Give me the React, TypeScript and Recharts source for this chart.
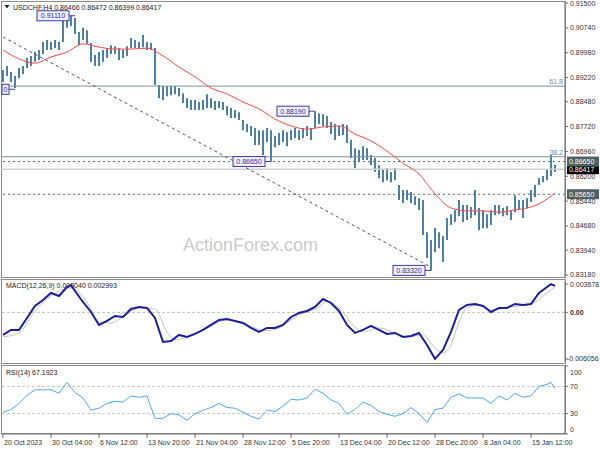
import React from "react";
import {
  Bar,
  ComposedChart,
  Line,
  ReferenceDot,
  ReferenceLine,
  XAxis,
  YAxis,
} from "recharts";

// USDCHF H4 with SMA, MACD(12,26,9) and RSI(14). One slot here covers about
// 2.7 H4 bars of the original screen; the last slots stay empty (chart shift).
const SLOTS = 141;

const highs = [
  0.8945, 0.8957, 0.8939, 0.8927, 0.8951, 0.8957, 0.8982, 0.8988, 0.9, 0.9006,
  0.9031, 0.9037, 0.9031, 0.9037, 0.9031, 0.9098, 0.9113, 0.911, 0.9104, 0.9061,
  0.9074, 0.9067, 0.9028, 0.8991, 0.9, 0.9006, 0.9012, 0.9021, 0.9018, 0.9012,
  0.9006, 0.9018, 0.9043, 0.9037, 0.9031, 0.9052, 0.9031, 0.9028, 0.9012, 0.8899,
  0.8896, 0.8896, 0.8896, 0.8896, 0.889, 0.8874, 0.8859, 0.8853, 0.8853, 0.8847,
  0.8853, 0.8871, 0.8859, 0.885, 0.885, 0.8847, 0.8835, 0.8829, 0.8823, 0.8816,
  0.8792, 0.878, 0.8774, 0.8768, 0.8761, 0.8761, 0.8768, 0.8761, 0.8743, 0.8752,
  0.8761, 0.8755, 0.8761, 0.8768, 0.8761, 0.8768, 0.8774, 0.8768, 0.8819, 0.8813,
  0.881, 0.8804, 0.8786, 0.878, 0.8774, 0.878, 0.8777, 0.8731, 0.8706, 0.87,
  0.8712, 0.8706, 0.8685, 0.8676, 0.8654, 0.8639, 0.8645, 0.8633, 0.8645, 0.8593,
  0.8578, 0.8578, 0.8572, 0.8559, 0.8553, 0.8547, 0.8449, 0.8425, 0.8462, 0.8449,
  0.8437, 0.8492, 0.8504, 0.8516, 0.8547, 0.8532, 0.8532, 0.8526, 0.8578, 0.8523,
  0.8516, 0.8504, 0.8516, 0.8532, 0.8532, 0.8523, 0.8529, 0.8516, 0.8562, 0.8547,
  0.8547, 0.8553, 0.8578, 0.8593, 0.8615, 0.8621, 0.8639, 0.8685, 0.8655,
];

const lows = [
  0.8908, 0.8927, 0.8908, 0.889, 0.892, 0.8933, 0.8951, 0.8957, 0.897, 0.8976,
  0.8994, 0.9006, 0.9006, 0.9012, 0.9006, 0.9031, 0.9074, 0.908, 0.9055, 0.9021,
  0.9037, 0.9025, 0.897, 0.8957, 0.8957, 0.897, 0.8982, 0.8994, 0.8994, 0.8976,
  0.8982, 0.8988, 0.9012, 0.9012, 0.9012, 0.9015, 0.9006, 0.9006, 0.8899, 0.8859,
  0.8853, 0.8865, 0.8868, 0.8871, 0.8865, 0.8844, 0.8829, 0.8823, 0.8823, 0.8823,
  0.8823, 0.8829, 0.8829, 0.8823, 0.8829, 0.8823, 0.8807, 0.8798, 0.8798, 0.8792,
  0.8761, 0.8755, 0.8743, 0.8716, 0.8716, 0.8685, 0.8725, 0.8665, 0.8709, 0.8716,
  0.8725, 0.8712, 0.8731, 0.8737, 0.8731, 0.8737, 0.8743, 0.8731, 0.8768, 0.878,
  0.8774, 0.8768, 0.8749, 0.8731, 0.8743, 0.8746, 0.8722, 0.8676, 0.8645, 0.8664,
  0.867, 0.867, 0.8654, 0.8633, 0.8614, 0.8602, 0.8608, 0.8602, 0.8608, 0.8547,
  0.8538, 0.8547, 0.8538, 0.8532, 0.8517, 0.844, 0.837, 0.8332, 0.8388, 0.84,
  0.8358, 0.8425, 0.8471, 0.848, 0.8498, 0.848, 0.8486, 0.8492, 0.8501, 0.8455,
  0.8461, 0.8461, 0.8471, 0.8501, 0.8504, 0.8498, 0.8501, 0.8486, 0.851, 0.8517,
  0.8492, 0.8523, 0.8541, 0.8556, 0.8593, 0.8602, 0.8608, 0.8621, 0.8633,
];

// [slot, value]
const maPoints: [number, number][] = [
  [0, 0.9006], [4, 0.8979], [8, 0.8966], [12, 0.8985], [16, 0.9], [20, 0.9025],
  [24, 0.9015], [28, 0.9009], [32, 0.9009], [36, 0.9012], [40, 0.8988], [44, 0.8954],
  [48, 0.8924], [52, 0.889], [56, 0.8872], [60, 0.8847], [64, 0.8826], [68, 0.8795],
  [72, 0.8774], [76, 0.8764], [80, 0.8771], [84, 0.8774], [88, 0.8749], [92, 0.8728],
  [96, 0.8697], [100, 0.866], [104, 0.8627], [108, 0.8566], [112, 0.8523], [116, 0.8514],
  [120, 0.8514], [124, 0.851], [128, 0.8517], [132, 0.8526], [136, 0.855], [138, 0.8569],
];

const macdPoints: [number, number][] = [
  [0, -0.00294], [2, -0.00229], [4, -0.00229], [6, -0.00073], [8, 0.00083], [10, 0.00161],
  [12, 0.00252], [14, 0.00213], [16, 0.0033], [17, 0.00356], [18, 0.00278], [20, 0.00135],
  [22, 0.00005], [24, -0.00164], [26, -0.00112], [28, -0.00047], [30, -0.0006], [32, 0.00044],
  [34, 0.0007], [36, 0.00057], [38, -0.00073], [40, -0.00385], [42, -0.00372], [44, -0.00294],
  [46, -0.0032], [48, -0.00281], [50, -0.00229], [52, -0.00164], [54, -0.00099], [56, -0.00086],
  [58, -0.00112], [60, -0.00138], [62, -0.00203], [64, -0.00255], [66, -0.00203], [68, -0.00203],
  [70, -0.00164], [72, -0.0006], [74, -0.00008], [76, 0.00018], [78, 0.0007], [80, 0.00174],
  [82, 0.00122], [84, 0.00018], [86, -0.00164], [88, -0.00268], [90, -0.00229], [92, -0.00177],
  [94, -0.00229], [96, -0.00281], [98, -0.00268], [100, -0.0032], [102, -0.00307], [104, -0.00268],
  [106, -0.00424], [108, -0.00605], [110, -0.0049], [112, -0.00255], [114, 0.00031], [116, 0.00096],
  [118, 0.00109], [120, 0.00083], [122, 0.00005], [124, 0.00057], [126, 0.00057], [128, 0.00109],
  [130, 0.00096], [132, 0.00109], [134, 0.00252], [136, 0.0033], [137, 0.00368], [138, 0.00345],
];

const signalPoints: [number, number][] = [
  [0, -0.0032], [4, -0.00268], [8, 0.00018], [12, 0.00213], [17, 0.00317], [21, 0.00135],
  [24, -0.00125], [27, -0.00138], [30, -0.0006], [34, 0.00057], [38, 0.00044], [41, -0.00255],
  [43, -0.00359], [46, -0.0032], [51, -0.00203], [56, -0.00099], [63, -0.00203], [65, -0.00242],
  [69, -0.00203], [72, -0.00099], [74, -0.00034], [79, 0.0007], [81, 0.00148], [84, 0.00057],
  [88, -0.0019], [90, -0.00255], [94, -0.00203], [98, -0.00268], [101, -0.0032], [105, -0.00294],
  [108, -0.00463], [110, -0.00528], [112, -0.00424], [114, -0.00125], [116, 0.00057], [119, 0.00096],
  [122, 0.00031], [127, 0.0007], [132, 0.00109], [136, 0.00252], [138, 0.0033],
];

const rsiPoints: [number, number][] = [
  [0, 32], [2, 36], [4, 45], [6, 57], [8, 65], [10, 65], [12, 65], [14, 60], [16, 76],
  [18, 61], [20, 53], [22, 35], [24, 38], [26, 45], [28, 48], [30, 47], [32, 56], [34, 54],
  [36, 56], [38, 23], [40, 23], [42, 30], [44, 28], [46, 20], [48, 30], [50, 35], [52, 39],
  [54, 45], [56, 39], [58, 38], [60, 32], [62, 26], [64, 22], [66, 35], [68, 33], [70, 41],
  [72, 51], [74, 50], [76, 53], [78, 66], [80, 60], [82, 50], [84, 45], [86, 29], [88, 36],
  [90, 47], [92, 42], [94, 33], [96, 29], [98, 26], [100, 30], [102, 39], [104, 30], [106, 17],
  [108, 36], [110, 38], [112, 54], [114, 59], [116, 53], [118, 53], [120, 53], [122, 45],
  [124, 56], [126, 50], [128, 60], [130, 54], [132, 56], [134, 70], [136, 73], [137, 76],
  [138, 67.2],
];

const timeLabels = [
  "20 Oct 2023", "30 Oct 04:00", "6 Nov 12:00", "13 Nov 20:00", "21 Nov 04:00",
  "28 Nov 12:00", "5 Dec 20:00", "13 Dec 04:00", "20 Dec 12:00", "28 Dec 20:00",
  "8 Jan 04:00", "15 Jan 12:00",
];

const priceTicks = [
  0.915, 0.9074, 0.8998, 0.8922, 0.8848, 0.8772, 0.8696, 0.862, 0.8544, 0.8468, 0.8394, 0.8318,
];
const macdTicks = [0.003678, 0, -0.006056];
const macdTickLabels = ["0.003678", "0.00", "-0.006056"];
const rsiTicks = [100, 70, 30, 0];
const rsiBands = [70, 30];

const fibLevels = [
  { price: 0.88958, label: "61.8" },
  { price: 0.86797, label: "38.2" },
];
const keyLevels = [0.8665, 0.8565];
const lastPrice = 0.86417;
const swings = [
  { i: 3, price: 0.8886 },
  { i: 18, price: 0.9111 },
  { i: 67, price: 0.8665 },
  { i: 78, price: 0.8819 },
  { i: 107, price: 0.8332 },
];
const trendLine = [
  { x: 0, y: 0.9046 },
  { x: 107, y: 0.8342 },
];

type Row = {
  i: number;
  range: [number, number] | null;
  ma: number | null;
  macd: number | null;
  signal: number | null;
  rsi: number | null;
};

const rows: Row[] = Array.from({ length: SLOTS }, (_, i) => ({
  i,
  range: i < highs.length ? [lows[i], highs[i]] : null,
  ma: null,
  macd: null,
  signal: null,
  rsi: null,
}));
maPoints.forEach(([i, v]) => (rows[i].ma = v));
macdPoints.forEach(([i, v]) => (rows[i].macd = v));
signalPoints.forEach(([i, v]) => (rows[i].signal = v));
rsiPoints.forEach(([i, v]) => (rows[i].rsi = v));

const FONT = "'Liberation Sans', Arial, sans-serif";
const AXIS = "#6e6e6e";

function PriceTick({ x, y, payload }: any) {
  return (
    <text x={x} y={y + 2.5} fontSize={7} fontFamily={FONT} fill="#333">
      {payload.value.toFixed(5)}
    </text>
  );
}

function MacdTick({ x, y, payload }: any) {
  const k = macdTicks.indexOf(payload.value);
  const neg = payload.value < 0;
  return (
    <text
      x={neg ? x - 3 : x}
      y={y + 2.5}
      fontSize={7}
      fontFamily={FONT}
      fill="#333"
      fontWeight={payload.value === 0 ? 700 : 400}
    >
      {macdTickLabels[k]}
    </text>
  );
}

function RsiTick({ x, y, payload }: any) {
  // MT4 pulls the end labels inside the window
  const shift = payload.value === 100 ? 6 : payload.value === 0 ? -4.5 : 0;
  return (
    <text x={x} y={y + 2.5 + shift} fontSize={7} fontFamily={FONT} fill="#333">
      {payload.value}
    </text>
  );
}

function TimeTick({ x, y, payload }: any) {
  return (
    <text x={x + 1} y={y + 5} fontSize={7} fontFamily={FONT} fill="#333">
      {timeLabels[payload.value / 12]}
    </text>
  );
}

// price tag sitting in the axis column
function AxisTag({ viewBox, text, bg }: any) {
  const x = viewBox.x + viewBox.width + 2;
  return (
    <g>
      <rect x={x} y={viewBox.y - 5} width={32} height={10} fill={bg} />
      <text x={x + 2} y={viewBox.y + 2.5} fontSize={7} fontFamily={FONT} fill="#fff">
        {text}
      </text>
    </g>
  );
}

function FibTag({ viewBox, text }: any) {
  return (
    <text
      x={viewBox.x + viewBox.width - 2}
      y={viewBox.y - 2}
      textAnchor="end"
      fontSize={7}
      fontFamily={FONT}
      fill="#6d8aa3"
    >
      {text}
    </text>
  );
}

function SwingTag({ cx, cy, text }: any) {
  const right = cx - 6;
  let w = 32;
  let shown = text;
  // a tag running into the left edge shows only its tail, as MT4 does
  if (right - w < 2) {
    w = right - 2;
    shown = text.slice(-Math.max(1, Math.floor((w - 2) / 4)));
  }
  return (
    <g>
      <line x1={right} x2={cx} y1={cy} y2={cy} stroke="#3b3bb4" strokeWidth={1} />
      <rect x={right - w} y={cy - 5} width={w} height={10} fill="#eef0ff" stroke="#3b3bb4" />
      <text
        x={right - w / 2}
        y={cy + 2.5}
        textAnchor="middle"
        fontSize={7}
        fontFamily={FONT}
        fill="#2e2ea0"
      >
        {shown}
      </text>
    </g>
  );
}

export default function App() {
  return (
    <div style={{ position: "relative", width: 600, height: 450, background: "#fff" }}>
      <style>{"body{margin:0}"}</style>

      {/* frames, captions, watermark */}
      <svg
        width={600}
        height={450}
        style={{ position: "absolute", left: 0, top: 0 }}
      >
        <rect x={1.5} y={1.5} width={564} height={276} fill="none" stroke="#8c8c8c" />
        <rect x={1.5} y={279.5} width={564} height={84} fill="none" stroke="#8c8c8c" />
        <rect x={1.5} y={365.5} width={564} height={68} fill="none" stroke="#8c8c8c" />
        <text x={183} y={251} fontSize={18} fontFamily={FONT} fill="#cacaca">
          ActionForex.com
        </text>
        <polygon points="4.5,5 9.5,5 7,8.5" fill="#222" />
        <text x={13} y={10} fontSize={7} fontFamily={FONT} fill="#222">
          USDCHF,H4  0.86466 0.86472 0.86399 0.86417
        </text>
        <text x={6} y={288} fontSize={7} fontFamily={FONT} fill="#222">
          MACD(12,26,9) 0.003040 0.002993
        </text>
        <text x={6} y={375} fontSize={7} fontFamily={FONT} fill="#222">
          RSI(14) 67.1923
        </text>
      </svg>

      {/* price window */}
      <div style={{ position: "absolute", left: 0, top: 0 }}>
        <ComposedChart
          width={600}
          height={279}
          data={rows}
          margin={{ top: 2, right: 0, bottom: 2, left: 1 }}
        >
          <XAxis dataKey="i" hide scale="band" />
          <YAxis
            orientation="right"
            width={35}
            domain={[0.83118, 0.91531]}
            allowDataOverflow
            ticks={priceTicks}
            interval={0}
            tick={<PriceTick />}
            tickSize={3}
            tickMargin={2}
            axisLine={{ stroke: AXIS }}
            tickLine={{ stroke: AXIS }}
          />
          {fibLevels.map((f) => (
            <ReferenceLine
              key={f.label}
              y={f.price}
              stroke="#7b9292"
              strokeWidth={1}
              label={<FibTag text={f.label} />}
            />
          ))}
          <ReferenceLine
            y={lastPrice}
            stroke="#cfcfcf"
            strokeWidth={1.5}
            label={<AxisTag text={lastPrice.toFixed(5)} bg="#000" />}
          />
          {keyLevels.map((p) => (
            <ReferenceLine
              key={p}
              y={p}
              stroke="#4e6c6c"
              strokeDasharray="2 3"
              label={<AxisTag text={p.toFixed(5)} bg="#4d6363" />}
            />
          ))}
          <ReferenceLine segment={trendLine} stroke="#555" strokeDasharray="3 3" />
          <Bar
            dataKey="range"
            barSize={2}
            fill="#4f80a0"
            isAnimationActive={false}
          />
          <Line
            dataKey="ma"
            type="monotone"
            stroke="#ff4a4a"
            strokeWidth={1}
            dot={false}
            connectNulls
            isAnimationActive={false}
          />
          {swings.map((s) => (
            <ReferenceDot
              key={s.i}
              x={s.i}
              y={s.price}
              r={0}
              shape={(p: any) => <SwingTag {...p} text={s.price.toFixed(5)} />}
            />
          ))}
        </ComposedChart>
      </div>

      {/* MACD window */}
      <div style={{ position: "absolute", left: 0, top: 279 }}>
        <ComposedChart
          width={600}
          height={85}
          data={rows}
          margin={{ top: 2, right: 0, bottom: 2, left: 1 }}
        >
          <XAxis dataKey="i" hide scale="band" />
          <YAxis
            orientation="right"
            width={35}
            domain={[-0.00646, 0.00408]}
            allowDataOverflow
            ticks={macdTicks}
            interval={0}
            tick={<MacdTick />}
            tickSize={3}
            tickMargin={2}
            axisLine={{ stroke: AXIS }}
            tickLine={{ stroke: AXIS }}
          />
          <ReferenceLine y={0} stroke="#bdbdbd" strokeDasharray="3 2" />
          <Line
            dataKey="signal"
            type="monotone"
            stroke="#c4c4c4"
            strokeWidth={1}
            dot={false}
            connectNulls
            isAnimationActive={false}
          />
          <Line
            dataKey="macd"
            type="linear"
            stroke="#1d1d9e"
            strokeWidth={2}
            dot={false}
            connectNulls
            isAnimationActive={false}
          />
        </ComposedChart>
      </div>

      {/* RSI window + time axis */}
      <div style={{ position: "absolute", left: 0, top: 364 }}>
        <ComposedChart
          width={600}
          height={86}
          data={rows}
          margin={{ top: 2, right: 0, bottom: 0, left: 1 }}
        >
          <XAxis
            dataKey="i"
            scale="band"
            height={16}
            interval={11}
            tick={<TimeTick />}
            tickSize={4}
            tickMargin={2}
            axisLine={{ stroke: AXIS }}
            tickLine={{ stroke: AXIS }}
          />
          <YAxis
            orientation="right"
            width={35}
            domain={[0, 100]}
            ticks={rsiTicks}
            interval={0}
            tick={<RsiTick />}
            tickSize={3}
            tickMargin={2}
            axisLine={{ stroke: AXIS }}
            tickLine={{ stroke: AXIS }}
          />
          {rsiBands.map((v) => (
            <ReferenceLine key={v} y={v} stroke="#c4c4c4" strokeDasharray="3 2" />
          ))}
          <Line
            dataKey="rsi"
            type="linear"
            stroke="#4fa6ff"
            strokeWidth={1}
            dot={false}
            connectNulls
            isAnimationActive={false}
          />
        </ComposedChart>
      </div>
    </div>
  );
}
